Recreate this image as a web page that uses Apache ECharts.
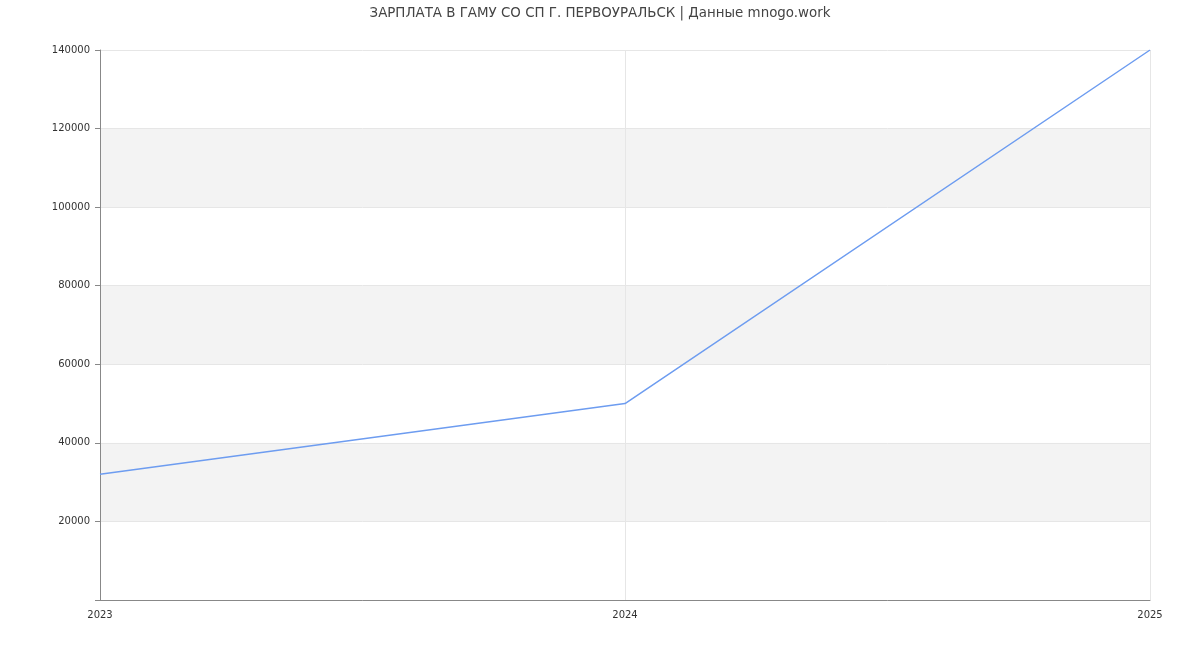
<!DOCTYPE html>
<html>
<head>
<meta charset="utf-8">
<script src="https://cdn.jsdelivr.net/npm/echarts@6/dist/echarts.min.js"></script>
<style>html,body{margin:0;padding:0;background:#fff}#c{width:1200px;height:650px}</style>
</head>
<body>
<div id="c"></div>
<script>
const years = [2023, 2024, 2025];
const salaries = [32000, 50000, 140000];
const titleText = 'ЗАРПЛАТА В ГАМУ СО СП Г. ПЕРВОУРАЛЬСК | Данные mnogo.work';

const chart = echarts.init(document.getElementById('c'));
chart.setOption({
  animation: false,
  backgroundColor: '#fff',
  textStyle: { fontFamily: 'DejaVu Sans' },
  title: {
    text: titleText, left: 'center', top: 2,
    textStyle: { fontSize: 13.4, fontWeight: 'normal', color: '#444', fontFamily: 'DejaVu Sans' }
  },
  grid: { left: 100, right: 50, top: 50, bottom: 50 },
  xAxis: {
    type: 'value', min: 2023, max: 2025, interval: 1,
    axisLine: { show: true, lineStyle: { color: '#888' } },
    axisTick: { show: false },
    axisLabel: { color: '#333', fontSize: 10, margin: 10, formatter: v => String(v) },
    splitLine: { show: true, lineStyle: { color: '#e6e6e6' } }
  },
  yAxis: {
    type: 'value', min: 0, max: 140000, interval: 20000,
    axisLine: { show: true, lineStyle: { color: '#888' } },
    axisTick: { show: true, length: 5, lineStyle: { color: '#888' } },
    axisLabel: { color: '#333', fontSize: 10, margin: 10, formatter: v => v === 0 ? '' : String(v) },
    splitLine: { show: true, lineStyle: { color: '#e6e6e6' } },
    splitArea: { show: true, areaStyle: { color: ['#ffffff', '#f3f3f3'] } }
  },
  series: [{
    type: 'line',
    data: years.map((y, i) => [y, salaries[i]]),
    showSymbol: false,
    lineStyle: { color: '#6d9cf0', width: 1.5 },
    itemStyle: { color: '#6d9cf0' }
  }]
});
</script>
</body>
</html>
